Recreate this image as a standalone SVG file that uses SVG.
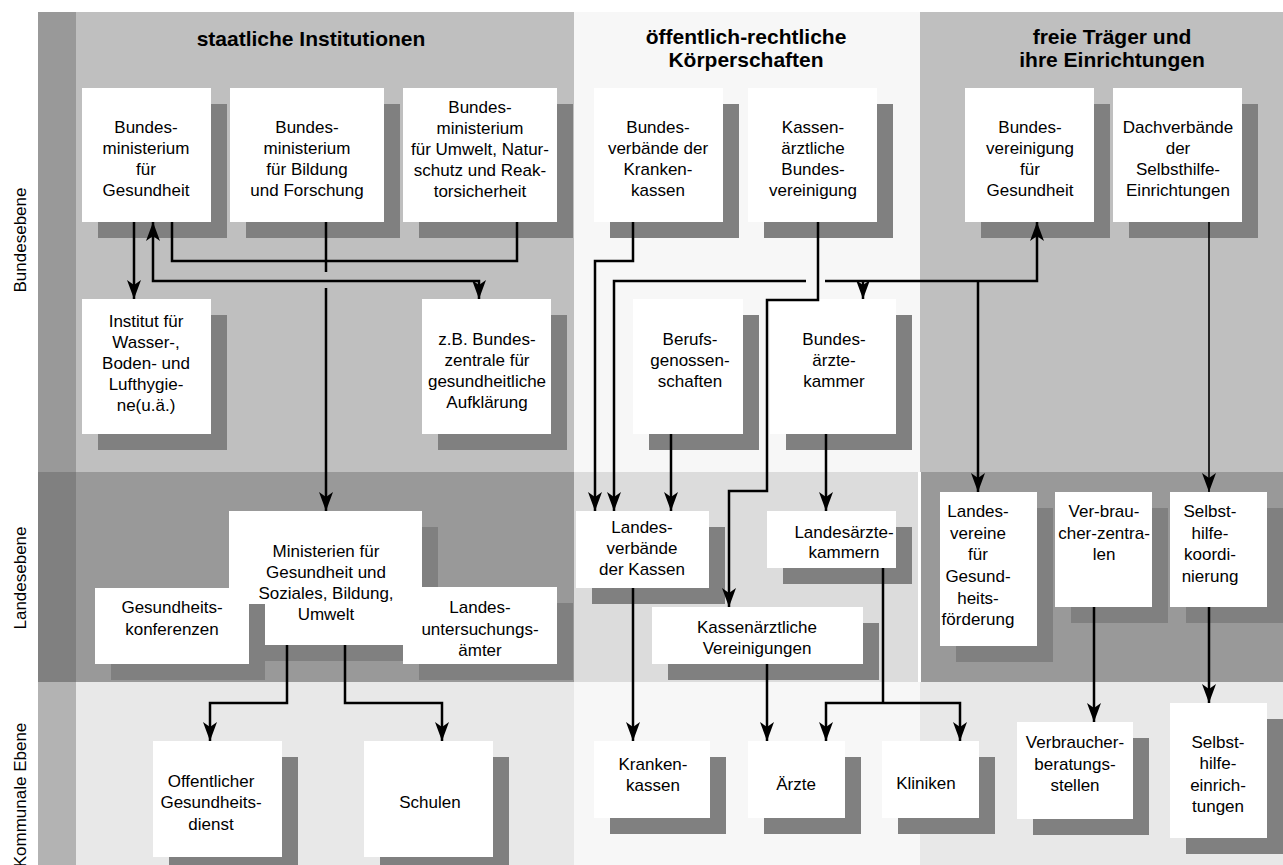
<svg xmlns="http://www.w3.org/2000/svg" width="1283" height="865" viewBox="0 0 1283 865">
<style>
.sh{fill:#808080}
.bx{fill:#ffffff}
.t{font-family:"Liberation Sans",Arial,Helvetica,sans-serif;font-size:17px;text-anchor:middle;fill:#000}
.h{font-family:"Liberation Sans",Arial,Helvetica,sans-serif;font-size:21px;font-weight:bold;text-anchor:middle;fill:#000}
.c path{fill:none;stroke:#000;stroke-width:2.5}
</style>
<defs>
<marker id="ah" viewBox="0 0 19 14" refX="19" refY="7" markerWidth="19" markerHeight="14" markerUnits="userSpaceOnUse" orient="auto-start-reverse"><path d="M0,0 L19,7 L0,14 L5,7 z" fill="#000"/></marker>
</defs>
<g id="background">
<rect x="0" y="0" width="1283" height="865" fill="#ffffff"/>
<rect x="38" y="12" width="38" height="460" fill="#999999"/>
<rect x="38" y="472" width="38" height="210" fill="#808080"/>
<rect x="38" y="682" width="38" height="183" fill="#b3b3b3"/>
<rect x="76" y="12" width="498" height="460" fill="#bfbfbf"/>
<rect x="76" y="472" width="498" height="210" fill="#999999"/>
<rect x="76" y="682" width="498" height="183" fill="#e8e8e8"/>
<rect x="574" y="12" width="346" height="460" fill="#f7f7f7"/>
<rect x="574" y="472" width="346" height="210" fill="#dcdcdc"/>
<rect x="574" y="682" width="346" height="183" fill="#f7f7f7"/>
<rect x="920" y="12" width="363" height="460" fill="#bfbfbf"/>
<rect x="920" y="472" width="363" height="210" fill="#999999"/>
<rect x="920" y="682" width="363" height="183" fill="#e8e8e8"/>
<rect x="918" y="472" width="3" height="210" fill="#ffffff"/>
</g>
<g id="labels">
<text class="t" transform="translate(26,240) rotate(-90)">Bundesebene</text>
<text class="t" transform="translate(26,578) rotate(-90)">Landesebene</text>
<text class="t" transform="translate(26,795) rotate(-90)">Kommunale Ebene</text>
<text class="h" x="311" y="46">staatliche Institutionen</text>
<text class="h" x="746" y="44">öffentlich-rechtliche</text>
<text class="h" x="746" y="67">Körperschaften</text>
<text class="h" x="1112" y="44">freie Träger und</text>
<text class="h" x="1112" y="67">ihre Einrichtungen</text>
</g>
<g id="n-bmg"><rect class="sh" x="98" y="104" width="129" height="134"/><rect class="bx" x="82" y="88" width="129" height="134"/>
<text class="t"><tspan x="146" y="133">Bundes-</tspan><tspan x="146" y="154">ministerium</tspan><tspan x="146" y="175">für</tspan><tspan x="146" y="196">Gesundheit</tspan></text></g>
<g id="n-bmbf"><rect class="sh" x="246" y="104" width="154" height="134"/><rect class="bx" x="230" y="88" width="154" height="134"/>
<text class="t"><tspan x="307" y="133">Bundes-</tspan><tspan x="307" y="154">ministerium</tspan><tspan x="307" y="175">für Bildung</tspan><tspan x="307" y="196">und Forschung</tspan></text></g>
<g id="n-bmu"><rect class="sh" x="419" y="104" width="154" height="134"/><rect class="bx" x="403" y="88" width="154" height="134"/>
<text class="t"><tspan x="480" y="113">Bundes-</tspan><tspan x="480" y="134">ministerium</tspan><tspan x="480" y="155">für Umwelt, Natur-</tspan><tspan x="480" y="176">schutz und Reak-</tspan><tspan x="480" y="197">torsicherheit</tspan></text></g>
<g id="n-bvkk"><rect class="sh" x="610" y="104" width="129" height="134"/><rect class="bx" x="594" y="88" width="129" height="134"/>
<text class="t"><tspan x="658" y="133">Bundes-</tspan><tspan x="658" y="154">verbände der</tspan><tspan x="658" y="175">Kranken-</tspan><tspan x="658" y="196">kassen</tspan></text></g>
<g id="n-kbv"><rect class="sh" x="764" y="104" width="129" height="134"/><rect class="bx" x="748" y="88" width="129" height="134"/>
<text class="t"><tspan x="813" y="133">Kassen-</tspan><tspan x="813" y="154">ärztliche</tspan><tspan x="813" y="175">Bundes-</tspan><tspan x="813" y="196">vereinigung</tspan></text></g>
<g id="n-bvg"><rect class="sh" x="981" y="104" width="129" height="134"/><rect class="bx" x="965" y="88" width="129" height="134"/>
<text class="t"><tspan x="1030" y="133">Bundes-</tspan><tspan x="1030" y="154">vereinigung</tspan><tspan x="1030" y="175">für</tspan><tspan x="1030" y="196">Gesundheit</tspan></text></g>
<g id="n-dach"><rect class="sh" x="1129" y="104" width="129" height="134"/><rect class="bx" x="1113" y="88" width="129" height="134"/>
<text class="t"><tspan x="1178" y="133">Dachverbände</tspan><tspan x="1178" y="154">der</tspan><tspan x="1178" y="175">Selbsthilfe-</tspan><tspan x="1178" y="196">Einrichtungen</tspan></text></g>
<g id="n-institut"><rect class="sh" x="98" y="315" width="129" height="135"/><rect class="bx" x="82" y="299" width="129" height="135"/>
<text class="t"><tspan x="146" y="327">Institut für</tspan><tspan x="146" y="348">Wasser-,</tspan><tspan x="146" y="369">Boden- und</tspan><tspan x="146" y="390">Lufthygie-</tspan><tspan x="146" y="411">ne(u.ä.)</tspan></text></g>
<g id="n-bzga"><rect class="sh" x="438" y="315" width="129" height="135"/><rect class="bx" x="422" y="299" width="129" height="135"/>
<text class="t"><tspan x="487" y="345">z.B. Bundes-</tspan><tspan x="487" y="366">zentrale für</tspan><tspan x="487" y="387">gesundheitliche</tspan><tspan x="487" y="408">Aufklärung</tspan></text></g>
<g id="n-bg"><rect class="sh" x="649" y="315" width="110" height="135"/><rect class="bx" x="633" y="299" width="110" height="135"/>
<text class="t"><tspan x="690" y="345">Berufs-</tspan><tspan x="690" y="366">genossen-</tspan><tspan x="690" y="387">schaften</tspan></text></g>
<g id="n-bak"><rect class="sh" x="786" y="315" width="126" height="135"/><rect class="bx" x="770" y="299" width="126" height="135"/>
<text class="t"><tspan x="834" y="345">Bundes-</tspan><tspan x="834" y="366">ärzte-</tspan><tspan x="834" y="387">kammer</tspan></text></g>
<g id="n-ministerien"><rect class="sh" x="245" y="527" width="193" height="134"/><rect class="bx" x="229" y="511" width="193" height="134"/>
<text class="t"><tspan x="326" y="557">Ministerien für</tspan><tspan x="326" y="578">Gesundheit und</tspan><tspan x="326" y="599">Soziales, Bildung,</tspan><tspan x="326" y="620">Umwelt</tspan></text></g>
<g id="n-gk"><rect class="sh" x="111" y="604" width="154" height="76"/><rect class="bx" x="95" y="588" width="154" height="76"/>
<text class="t"><tspan x="172" y="613">Gesundheits-</tspan><tspan x="172" y="635">konferenzen</tspan></text></g>
<g id="n-lua"><rect class="sh" x="419" y="603" width="154" height="77"/><rect class="bx" x="403" y="587" width="154" height="77"/>
<text class="t"><tspan x="480" y="613">Landes-</tspan><tspan x="480" y="635">untersuchungs-</tspan><tspan x="480" y="656">ämter</tspan></text></g>
<g id="n-lvk"><rect class="sh" x="592" y="527" width="133" height="77"/><rect class="bx" x="576" y="511" width="133" height="77"/>
<text class="t"><tspan x="642" y="533">Landes-</tspan><tspan x="642" y="554">verbände</tspan><tspan x="642" y="575">der Kassen</tspan></text></g>
<g id="n-lak"><rect class="sh" x="783" y="527" width="129" height="57"/><rect class="bx" x="767" y="511" width="129" height="57"/>
<text class="t"><tspan x="844" y="538">Landesärzte-</tspan><tspan x="844" y="558">kammern</tspan></text></g>
<g id="n-kv"><rect class="sh" x="668" y="623" width="211" height="57"/><rect class="bx" x="652" y="607" width="211" height="57"/>
<text class="t"><tspan x="757" y="633">Kassenärztliche</tspan><tspan x="757" y="654">Vereinigungen</tspan></text></g>
<g id="n-lvg"><rect class="sh" x="956" y="508" width="97" height="154"/><rect class="bx" x="940" y="492" width="97" height="154"/>
<text class="t"><tspan x="978" y="517">Landes-</tspan><tspan x="978" y="539">vereine</tspan><tspan x="978" y="560">für</tspan><tspan x="978" y="582">Gesund-</tspan><tspan x="978" y="604">heits-</tspan><tspan x="978" y="625">förderung</tspan></text></g>
<g id="n-vz"><rect class="sh" x="1071" y="508" width="97" height="115"/><rect class="bx" x="1055" y="492" width="97" height="115"/>
<text class="t"><tspan x="1104" y="517">Ver-brau-</tspan><tspan x="1104" y="539">cher-zentra-</tspan><tspan x="1104" y="560">len</tspan></text></g>
<g id="n-shk"><rect class="sh" x="1186" y="508" width="97" height="115"/><rect class="bx" x="1170" y="492" width="97" height="115"/>
<text class="t"><tspan x="1210" y="517">Selbst-</tspan><tspan x="1210" y="539">hilfe-</tspan><tspan x="1210" y="560">koordi-</tspan><tspan x="1210" y="582">nierung</tspan></text></g>
<g id="n-oegd"><rect class="sh" x="169" y="757" width="129" height="116"/><rect class="bx" x="153" y="741" width="129" height="116"/>
<text class="t"><tspan x="211" y="787">Offentlicher</tspan><tspan x="211" y="808">Gesundheits-</tspan><tspan x="211" y="830">dienst</tspan></text></g>
<g id="n-schulen"><rect class="sh" x="380" y="757" width="129" height="116"/><rect class="bx" x="364" y="741" width="129" height="116"/>
<text class="t" x="430" y="808">Schulen</text></g>
<g id="n-kk"><rect class="sh" x="610" y="757" width="116" height="77"/><rect class="bx" x="594" y="741" width="116" height="77"/>
<text class="t"><tspan x="653" y="770">Kranken-</tspan><tspan x="653" y="791">kassen</tspan></text></g>
<g id="n-aerzte"><rect class="sh" x="764" y="757" width="97" height="77"/><rect class="bx" x="748" y="741" width="97" height="77"/>
<text class="t" x="796" y="790">Ärzte</text></g>
<g id="n-kliniken"><rect class="sh" x="898" y="757" width="97" height="77"/><rect class="bx" x="882" y="741" width="97" height="77"/>
<text class="t" x="926" y="789">Kliniken</text></g>
<g id="n-vbs"><rect class="sh" x="1033" y="738" width="116" height="97"/><rect class="bx" x="1017" y="722" width="116" height="97"/>
<text class="t"><tspan x="1075" y="748">Verbraucher-</tspan><tspan x="1075" y="770">beratungs-</tspan><tspan x="1075" y="791">stellen</tspan></text></g>
<g id="n-she"><rect class="sh" x="1186" y="719" width="97" height="135"/><rect class="bx" x="1170" y="703" width="97" height="135"/>
<text class="t"><tspan x="1218" y="748">Selbst-</tspan><tspan x="1218" y="769">hilfe-</tspan><tspan x="1218" y="791">einrich-</tspan><tspan x="1218" y="812">tungen</tspan></text></g>
<g id="connectors" class="c">
<path d="M134,222 V299" marker-end="url(#ah)"/>
<path d="M153,222 V281 H479 V299" marker-start="url(#ah)" marker-end="url(#ah)"/>
<path d="M172,222 V261 H517 V222"/>
<path d="M326,222 V272 M326,288 V511" marker-end="url(#ah)"/>
<path d="M287,645 V703 H210 V741" marker-end="url(#ah)"/>
<path d="M345,645 V703 H442 V741" marker-end="url(#ah)"/>
<path d="M633,222 V261 H595 V511" marker-end="url(#ah)"/>
<path d="M614,511 V281 H806" marker-start="url(#ah)"/>
<path d="M825,281 H1037 V222" marker-end="url(#ah)"/>
<path d="M863,281 V299" marker-end="url(#ah)"/>
<path d="M978,281 V492" marker-end="url(#ah)"/>
<path d="M818,222 V300 H767 V491 H729 V607" marker-end="url(#ah)"/>
<path d="M671,434 V511" marker-end="url(#ah)"/>
<path d="M826,434 V511" marker-end="url(#ah)"/>
<path d="M633,588 V741" marker-end="url(#ah)"/>
<path d="M767,664 V741" marker-end="url(#ah)"/>
<path d="M883,568 V703"/>
<path d="M826,741 V703 H960 V741" marker-start="url(#ah)" marker-end="url(#ah)"/>
<path d="M1209,222 V492" style="stroke-width:1.6" marker-end="url(#ah)"/>
<path d="M1094,607 V722" marker-end="url(#ah)"/>
<path d="M1209,607 V703" marker-end="url(#ah)"/>
</g>
</svg>
